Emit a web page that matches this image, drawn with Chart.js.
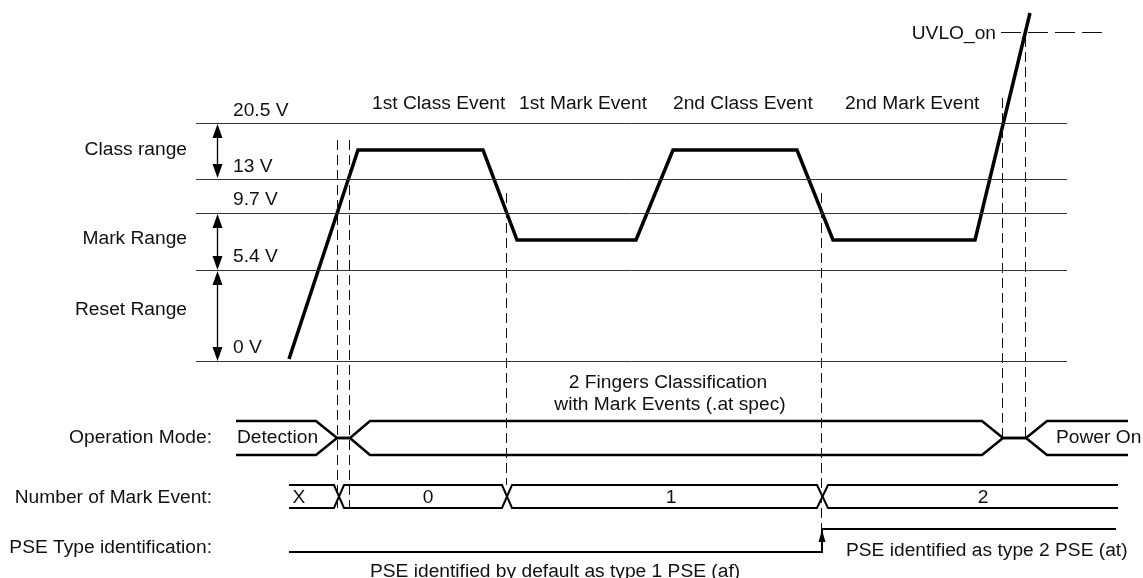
<!DOCTYPE html>
<html>
<head>
<meta charset="utf-8">
<script src="https://cdn.jsdelivr.net/npm/chart.js@4.4.0/dist/chart.umd.min.js"></script>
<style>
  body { margin: 0; background: #fff; }
  canvas { display: block; }
</style>
</head>
<body>
<canvas id="timing" width="1143" height="578"></canvas>
<script>
// diagram units: x = time axis, y = row/level axis (top down)
const levelY = [123.5, 179.5, 213.5, 270.5, 361.5];   // 20.5 V, 13 V, 9.7 V, 5.4 V, 0 V
const levelX = [196, 1067];

const waveX = [289, 358, 483, 517, 636, 673, 797, 833, 975, 1030];
const waveY = [359, 150, 150, 240, 240, 150, 150, 240, 240, 13];

const rangeX = 217.5;
const rangeTop = [124, 214, 271];
const rangeBottom = [178, 270, 361];

const markX = [337.5, 349.5, 506.5, 821.5, 1002.5, 1025.5];
const markTop = [140, 140, 193, 193, 98, 37];
const markBottom = [508, 508, 485, 530, 438, 438];

const uvloX = [1001, 1102];
const uvloY = [32.5, 32.5];

// operation mode bus
const opTopX = [236, 316, 337, 350, 370, 982, 1003, 1026, 1047, 1128];
const opTopY = [421, 421, 438, 438, 421, 421, 438, 438, 421, 421];
const opBotX = [236, 316, 337, 350, 370, 982, 1003, 1026, 1047, 1128];
const opBotY = [455, 455, 438, 438, 455, 455, 438, 438, 455, 455];

// number of mark event bus
const mkAX = [289, 334, 344, 502, 512, 817, 828, 1118];
const mkAY = [485, 485, 508, 508, 485, 485, 508, 508];
const mkBX = [289, 334, 344, 502, 512, 817, 828, 1118];
const mkBY = [508, 508, 485, 485, 508, 508, 485, 485];

// PSE type
const pseX = [289, 822, 822, 1116];
const pseY = [552, 552, 529, 529];

const labels = [
  ['20.5 V', 233, 116, 'left'], ['13 V', 233, 172, 'left'], ['9.7 V', 233, 205, 'left'],
  ['5.4 V', 233, 262, 'left'], ['0 V', 233, 353, 'left'],
  ['Class range', 187, 155, 'right'], ['Mark Range', 187, 244, 'right'], ['Reset Range', 187, 315, 'right'],
  ['1st Class Event', 372, 109, 'left'], ['1st Mark Event', 519, 109, 'left'],
  ['2nd Class Event', 673, 109, 'left'], ['2nd Mark Event', 845, 109, 'left'],
  ['UVLO_on', 996, 39, 'right'],
  ['2 Fingers Classification', 668, 388, 'center'], ['with Mark Events (.at spec)', 670, 410, 'center'],
  ['Operation Mode:', 212, 443, 'right'], ['Detection', 237, 443, 'left'], ['Power On', 1056, 443, 'left'],
  ['Number of Mark Event:', 212, 503, 'right'],
  ['X', 299, 503, 'center'], ['0', 428, 503, 'center'], ['1', 671, 503, 'center'], ['2', 983, 503, 'center'],
  ['PSE Type identification:', 212, 553, 'right'],
  ['PSE identified as type 2 PSE (at)', 846, 556, 'left'],
  ['PSE identified by default as type 1 PSE (af)', 370, 577, 'left']
];

function pts(xs, ys) {
  return xs.map((x, i) => ({ x: x, y: ys[i] }));
}
function line(xs, ys, width, color, dash) {
  return {
    data: pts(xs, ys),
    showLine: true,
    pointRadius: 0,
    borderWidth: width,
    borderColor: color,
    borderDash: dash || [],
    borderCapStyle: 'butt',
    borderJoinStyle: 'miter',
    fill: false,
    tension: 0,
    clip: false
  };
}

const datasets = [];
levelY.forEach(y => datasets.push(line(levelX, [y, y], 1, '#333')));
markX.forEach((x, i) => datasets.push(line([x, x], [markTop[i], markBottom[i]], 1, '#111', [10, 5])));
datasets.push(line(uvloX, uvloY, 1, '#111', [20, 7]));
rangeTop.forEach((t, i) => datasets.push(line([rangeX, rangeX], [t + 8, rangeBottom[i] - 8], 1.3, '#000')));
datasets.push(line(waveX, waveY, 3.5, '#000'));
datasets.push(line(opTopX, opTopY, 2.5, '#000'));
datasets.push(line(opBotX, opBotY, 2.5, '#000'));
datasets.push(line(mkAX, mkAY, 2, '#000'));
datasets.push(line(mkBX, mkBY, 2, '#000'));
datasets.push(line(pseX, pseY, 2, '#000'));

const annotate = {
  id: 'annotate',
  afterDatasetsDraw(chart) {
    const ctx = chart.ctx, sx = chart.scales.x, sy = chart.scales.y;
    ctx.save();
    ctx.fillStyle = '#000';
    // arrowheads
    function head(x, y, dir, len, half) {
      const px = sx.getPixelForValue(x), py = sy.getPixelForValue(y);
      ctx.beginPath();
      ctx.moveTo(px, py);
      ctx.lineTo(px - half, py + dir * len);
      ctx.lineTo(px + half, py + dir * len);
      ctx.closePath();
      ctx.fill();
    }
    rangeTop.forEach((t, i) => {
      head(rangeX, t, 1, 14, 5);
      head(rangeX, rangeBottom[i], -1, 14, 5);
    });
    head(pseX[2], pseY[2] + 1, 1, 12, 3.5);
    // texts
    ctx.font = '19.2px "Liberation Sans", Arial, sans-serif';
    ctx.fillStyle = '#111';
    ctx.textBaseline = 'alphabetic';
    labels.forEach(l => {
      ctx.textAlign = l[3];
      ctx.fillText(l[0], sx.getPixelForValue(l[1]), sy.getPixelForValue(l[2]));
    });
    ctx.restore();
  }
};

new Chart(document.getElementById('timing'), {
  type: 'scatter',
  data: { datasets: datasets },
  options: {
    responsive: false,
    animation: false,
    devicePixelRatio: 1,
    layout: { padding: 0 },
    plugins: { legend: { display: false }, tooltip: { enabled: false } },
    scales: {
      x: { type: 'linear', min: 0, max: 1143, display: false },
      y: { type: 'linear', min: 0, max: 578, reverse: true, display: false }
    }
  },
  plugins: [annotate]
});
</script>
</body>
</html>
